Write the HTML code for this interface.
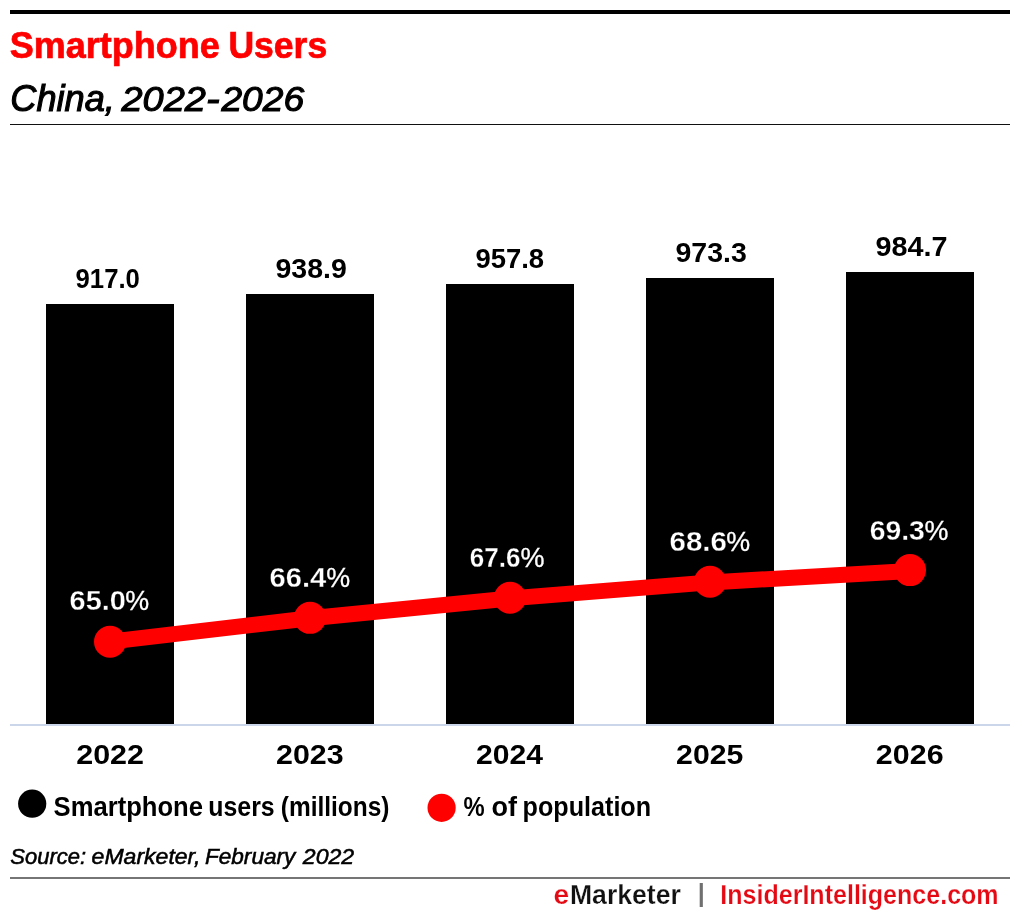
<!DOCTYPE html>
<html lang="en">
<head>
<meta charset="utf-8">
<title>Smartphone Users - China, 2022-2026</title>
<style>
html,body{margin:0;padding:0;background:#fff;}
body{width:1020px;height:920px;overflow:hidden;}
svg{display:block;font-family:"Liberation Sans",sans-serif;}
.val{font-weight:bold;font-size:27.6px;fill:#000;}
.pct{font-weight:bold;font-size:27.6px;fill:#fff;stroke:#000;stroke-width:0.3px;}
.yr{font-weight:bold;font-size:27.2px;fill:#000;}
.leg{font-weight:bold;font-size:26.8px;fill:#000;}
.ft{font-weight:bold;font-size:27.2px;stroke:#fff;stroke-width:0.25px;}
</style>
</head>
<body>
<svg width="1020" height="920" viewBox="0 0 1020 920">
  <!-- header rules -->
  <rect x="10" y="10" width="1000" height="4" fill="#000"/>
  <rect x="10" y="124" width="1000" height="1" fill="#111"/>
  <!-- columns -->
  <g fill="#000">
    <rect x="46" y="304" width="128" height="420"/>
    <rect x="246" y="294" width="128" height="430"/>
    <rect x="446" y="284" width="128" height="440"/>
    <rect x="646" y="278" width="128" height="446"/>
    <rect x="846" y="272" width="128" height="452"/>
  </g>
  <!-- x axis -->
  <rect x="10" y="724" width="1000" height="2" fill="#ccd6eb"/>
  <!-- % of population line -->
  <polyline points="110,641.6 310,618.2 510,598.4 710,582.4 910,570.9" fill="none" stroke="#ff0000" stroke-width="16" stroke-linejoin="round" stroke-linecap="round"/>
  <g fill="#ff0000">
    <circle cx="110" cy="641.7" r="16"/>
    <circle cx="310" cy="617.85" r="16"/>
    <circle cx="510" cy="597.8" r="16"/>
    <circle cx="710" cy="581.7" r="16"/>
    <circle cx="910" cy="570.1" r="16"/>
  </g>
  <!-- legend symbols -->
  <circle cx="32.2" cy="803.7" r="14.1" fill="#000"/>
  <circle cx="441.6" cy="807.8" r="14.1" fill="#ff0000"/>
  <!-- footer -->
  <rect x="10" y="877" width="1000" height="2" fill="#757575"/>
  <!-- text -->
  <text y="58.1" font-weight="bold" font-size="37.5" fill="#ff0000" stroke="#ff0000" stroke-width="0.7"><tspan x="9.77" textLength="210.06" lengthAdjust="spacingAndGlyphs">Smartphone</tspan> <tspan x="228.41" textLength="98.82" lengthAdjust="spacingAndGlyphs">Users</tspan></text>
  <text y="111.3" font-style="italic" font-size="37" fill="#000" stroke="#000" stroke-width="1.1"><tspan x="10.30" textLength="104.54" lengthAdjust="spacingAndGlyphs" font-size="36.4">China,</tspan> <tspan x="121.51" textLength="84.35" lengthAdjust="spacingAndGlyphs" font-size="35.6">2022</tspan><tspan x="206.02" textLength="13.67" lengthAdjust="spacingAndGlyphs">-</tspan><tspan x="221.47" textLength="82.59" lengthAdjust="spacingAndGlyphs" font-size="35.6">2026</tspan></text>
  <text y="288.0" class="val"><tspan x="75.55" textLength="64.36" lengthAdjust="spacingAndGlyphs">917.0</tspan></text>
  <text y="278.1" class="val"><tspan x="275.51" textLength="71.34" lengthAdjust="spacingAndGlyphs">938.9</tspan></text>
  <text y="268.1" class="val"><tspan x="475.49" textLength="68.65" lengthAdjust="spacingAndGlyphs">957.8</tspan></text>
  <text y="262.0" class="val"><tspan x="675.50" textLength="71.35" lengthAdjust="spacingAndGlyphs">973.3</tspan></text>
  <text y="256.1" class="val"><tspan x="875.47" textLength="71.99" lengthAdjust="spacingAndGlyphs">984.7</tspan></text>
  <text y="610.0" class="pct"><tspan x="69.62" textLength="56.28" lengthAdjust="spacingAndGlyphs">65.0</tspan><tspan x="125.29" textLength="23.92" lengthAdjust="spacingAndGlyphs" font-weight="normal" stroke="#fff" stroke-width="0.3">%</tspan></text>
  <text y="587.3" class="pct"><tspan x="269.51" textLength="56.84" lengthAdjust="spacingAndGlyphs">66.4</tspan><tspan x="326.29" textLength="23.92" lengthAdjust="spacingAndGlyphs" font-weight="normal" stroke="#fff" stroke-width="0.3">%</tspan></text>
  <text y="567.0" class="pct"><tspan x="469.68" textLength="50.75" lengthAdjust="spacingAndGlyphs">67.6</tspan><tspan x="520.39" textLength="24.03" lengthAdjust="spacingAndGlyphs" font-weight="normal" stroke="#fff" stroke-width="0.3">%</tspan></text>
  <text y="551.1" class="pct"><tspan x="669.48" textLength="57.54" lengthAdjust="spacingAndGlyphs">68.6</tspan><tspan x="726.37" textLength="23.91" lengthAdjust="spacingAndGlyphs" font-weight="normal" stroke="#fff" stroke-width="0.3">%</tspan></text>
  <text y="540.0" class="pct"><tspan x="869.66" textLength="55.18" lengthAdjust="spacingAndGlyphs">69.3</tspan><tspan x="924.62" textLength="23.92" lengthAdjust="spacingAndGlyphs" font-weight="normal" stroke="#fff" stroke-width="0.3">%</tspan></text>
  <text y="764.0" class="yr"><tspan x="76.23" textLength="67.80" lengthAdjust="spacingAndGlyphs">2022</tspan></text>
  <text y="764.0" class="yr"><tspan x="276.06" textLength="67.64" lengthAdjust="spacingAndGlyphs">2023</tspan></text>
  <text y="764.0" class="yr"><tspan x="476.10" textLength="66.98" lengthAdjust="spacingAndGlyphs">2024</tspan></text>
  <text y="764.0" class="yr"><tspan x="676.08" textLength="67.27" lengthAdjust="spacingAndGlyphs">2025</tspan></text>
  <text y="764.0" class="yr"><tspan x="875.88" textLength="67.72" lengthAdjust="spacingAndGlyphs">2026</tspan></text>
  <text y="816.3" class="leg"><tspan x="53.57" textLength="149.43" lengthAdjust="spacingAndGlyphs">Smartphone</tspan> <tspan x="208.36" textLength="66.35" lengthAdjust="spacingAndGlyphs">users</tspan> <tspan x="280.76" textLength="108.77" lengthAdjust="spacingAndGlyphs">(millions)</tspan></text>
  <text y="815.9" class="leg"><tspan x="463.58" textLength="21.13" lengthAdjust="spacingAndGlyphs">%</tspan> <tspan x="491.46" textLength="25.50" lengthAdjust="spacingAndGlyphs">of</tspan> <tspan x="522.57" textLength="128.54" lengthAdjust="spacingAndGlyphs">population</tspan></text>
  <text y="864.1" font-style="italic" font-size="22.5" fill="#000" stroke="#000" stroke-width="0.55"><tspan x="10.33" textLength="75.75" lengthAdjust="spacingAndGlyphs">Source:</tspan> <tspan x="91.60" textLength="108.80" lengthAdjust="spacingAndGlyphs">eMarketer,</tspan> <tspan x="204.95" textLength="90.43" lengthAdjust="spacingAndGlyphs">February</tspan> <tspan x="302.85" textLength="51.32" lengthAdjust="spacingAndGlyphs">2022</tspan></text>
  <text y="904.0" class="ft" fill="#111"><tspan x="553.49" textLength="15.68" lengthAdjust="spacingAndGlyphs" fill="#e50914">e</tspan><tspan x="569.95" textLength="110.92" lengthAdjust="spacingAndGlyphs">Marketer</tspan></text>
  <text y="902.2" font-size="26.4" fill="#707070"><tspan x="696.16" textLength="10.04" lengthAdjust="spacingAndGlyphs">|</tspan></text>
  <text y="904.0" class="ft" fill="#e50914"><tspan x="720.29" textLength="278.36" lengthAdjust="spacingAndGlyphs">InsiderIntelligence.com</tspan></text>
</svg>
</body>
</html>
